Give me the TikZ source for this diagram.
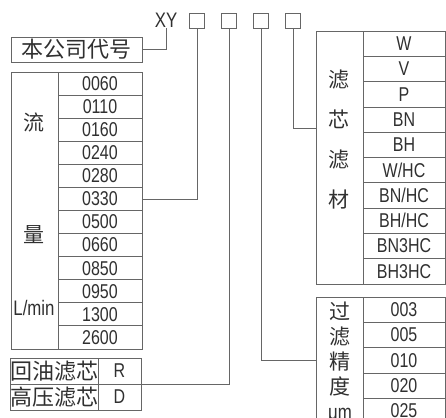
\documentclass[tikz,border=0pt]{standalone}
\usepackage{fontspec}
\setmainfont[FakeStretch=0.8]{Liberation Sans}
\newfontfamily\cjk{Noto Sans CJK SC}
\usetikzlibrary{positioning}
\definecolor{grisLinea}{HTML}{666666}
\definecolor{grisTexto}{HTML}{303030}

\begin{document}
\begin{tikzpicture}[x=1pt, y=-1pt,
        node distance=17pt,
        frame/.style={draw=grisLinea, line width=0.8pt, inner sep=0pt, outer sep=0pt},
        cell/.style={frame, text=grisTexto, font=\fontsize{20}{24}\selectfont},
        cjkcell/.style={cell, font=\cjk\fontsize{22}{24}\selectfont},
        codebox/.style={frame, minimum size=15pt},
        lbl/.style={text=grisTexto, inner sep=0pt, align=center},
        link/.style={grisLinea, line width=0.8pt}
    ]
        \useasboundingbox (0,0) rectangle (446,417);
        \clip (0,0) rectangle (446,417);

        % model code
        \node[lbl, font=\fontsize{21}{21}\selectfont] (xy) at (166,20.5) {XY};
        \node[codebox] (b1) at (197,20.5) {};
        \node[codebox, right=of b1] (b2) {};
        \node[codebox, right=of b2] (b3) {};
        \node[codebox, right=of b3] (b4) {};

        % company code
        \node[cjkcell, minimum width=131pt, minimum height=25pt] (co) at (76.5,49.5) {本公司代号};

        % flow rate
        \node[frame, minimum width=131pt, minimum height=277pt] (flow) at (76.5,210.5) {};
        \foreach \v [count=\i] in {0060,0110,0160,0240,0280,0330,0500,0660,0850,0950,1300,2600}
            \node[cell, minimum width=84pt, minimum height=23.08pt] (f\i) at (100,{72+23.08*(\i-0.5)}) {\v\hspace{9pt}};
        \node[lbl, font=\cjk\fontsize{21}{21}\selectfont] (liu) at (34,122) {流};
        \node[lbl, font=\cjk\fontsize{21}{21}\selectfont] (liang) at (34,235) {量};
        \node[lbl, font=\fontsize{21}{21}\selectfont] (lmin) at (34,308) {L/min};

        % element type
        \node[cjkcell, minimum width=87pt, minimum height=26pt] (huiyou) at (54.5,371) {回油滤芯};
        \node[cell, minimum width=43pt, minimum height=26pt] (r) at (119.5,371) {R};
        \node[cjkcell, minimum width=87pt, minimum height=26pt] (gaoya) at (54.5,397) {高压滤芯};
        \node[cell, minimum width=43pt, minimum height=26pt] (d) at (119.5,397) {D};

        % filter material
        \node[frame, minimum width=129pt, minimum height=253pt] (mat) at (380.5,157.5) {};
        \foreach \v [count=\i] in {W,V,P,BN,BH,W/HC,BN/HC,BH/HC,BN3HC,BH3HC}
            \node[cell, minimum width=82pt, minimum height=25.3pt] (m\i) at (404,{31+25.3*(\i-0.5)}) {\v};
        \node[lbl, font=\cjk\fontsize{21}{40}\selectfont] (matlbl) at (339,140) {滤\\芯\\滤\\材};

        % filtration rating
        \node[frame, minimum width=129pt, minimum height=126.5pt] (prec) at (380.5,360.25) {};
        \foreach \v [count=\i] in {003,005,010,020,025}
            \node[cell, minimum width=82pt, minimum height=25.3pt] (p\i) at (404,{297+25.3*(\i-0.5)}) {\v};
        \node[lbl, font=\cjk\fontsize{21}{25}\selectfont] (preclbl) at (340,363) {过\\滤\\精\\度\\{\rmfamily μm}};

        \coordinate (matin) at (316,128);

        \draw[link] (co.east) -| (xy.south);
        \draw[link] (f6.east) -| (b1.south);
        \draw[link] (r.south east) -| (b2.south);
        \draw[link] (b3.south) |- (prec.west);
        \draw[link] (b4.south) |- (matin);
    \end{tikzpicture}
\end{document}
